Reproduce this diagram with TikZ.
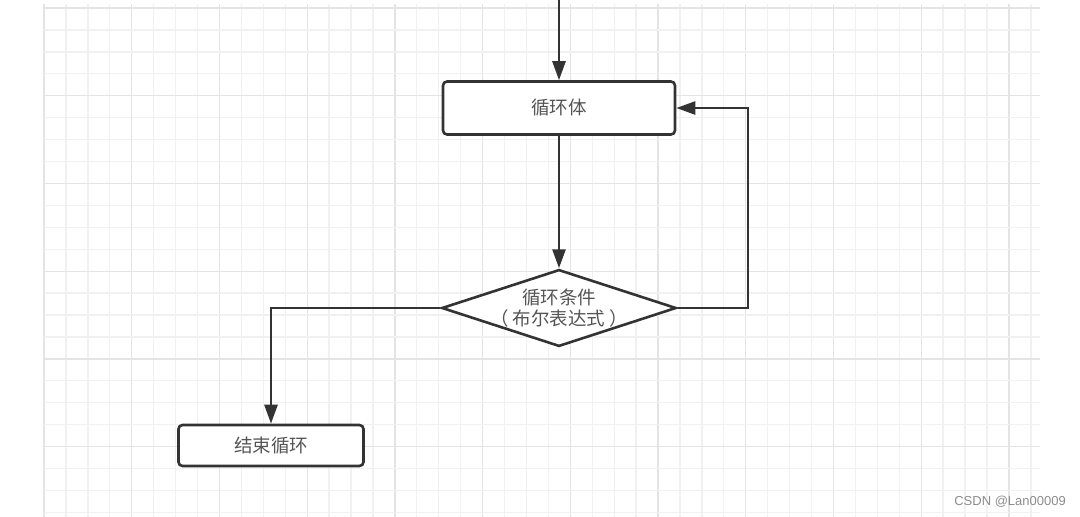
\documentclass[tikz,border=0pt]{standalone}
\usepackage{fontspec}
\setmainfont{Liberation Sans}
\newfontfamily\cjk{Noto Sans CJK SC}
\usepackage{xcolor}
\usetikzlibrary{arrows.meta,positioning,shapes.geometric}
\definecolor{gridmin}{HTML}{F1F1F1}
\definecolor{gridmaj}{HTML}{E4E4E4}
\definecolor{lineclr}{HTML}{333333}
\definecolor{txtclr}{HTML}{555555}
\tikzset{
  fbox/.style={draw=lineclr, line width=2.6pt, rounded corners=4pt, fill=white, align=center, font=\cjk\fontsize{18.5}{21}\selectfont, text=txtclr},
  fcond/.style={draw=lineclr, line width=2.6pt, diamond, aspect=3.05, inner xsep=-10pt, inner ysep=0pt, fill=white, align=center, font=\cjk\fontsize{18.5}{21}\selectfont, text=txtclr},
  farr/.style={-{Triangle[length=19pt,width=13pt]}, line width=2.6pt, draw=lineclr}
}
\begin{document}
\begin{tikzpicture}[x=1pt,y=-1pt]
\useasboundingbox (0,0) rectangle (1080,517);
% grid
\foreach \k in {0,...,45} {
  \pgfmathsetmacro\gx{44+21.93*\k}
  \pgfmathtruncatemacro\gm{mod(\k,4)}
  \ifnum\gm=0 \draw[gridmaj, line width=1.3pt] (\gx,4) -- (\gx,517);
  \else \draw[gridmin, line width=1.3pt] (\gx,4) -- (\gx,517); \fi
}
\foreach \k in {0,...,23} {
  \pgfmathsetmacro\gy{8+21.93*\k}
  \pgfmathtruncatemacro\gm{mod(\k,4)}
  \ifnum\gm=0 \draw[gridmaj, line width=1.3pt] (44,\gy) -- (1040,\gy);
  \else \draw[gridmin, line width=1.3pt] (44,\gy) -- (1040,\gy); \fi
}
% flow
\coordinate (start) at (559,0);
\node[fbox, minimum width=232pt, minimum height=53pt] (body) at (559,108) {循环体};
\node[fcond] (cond) at (559,308) {循环条件\\（\hspace{4pt}布尔表达式\hspace{4pt}）};
\node[fbox, minimum width=185pt, minimum height=41pt] (endloop) at (271,445.5) {结束循环};
\coordinate (loopR) at (748,308);
\draw[farr] (start)--(body); \draw[farr] (body)--(cond);
\draw[farr] (cond.east)--(loopR)|-(body.east);
\draw[farr] (cond.west)-|(endloop.north);
\node[text=black!45, font=\fontsize{13}{15}\selectfont, anchor=east, inner sep=0pt] (mark) at (1066,502) {CSDN @Lan00009};
\end{tikzpicture}
\end{document}
